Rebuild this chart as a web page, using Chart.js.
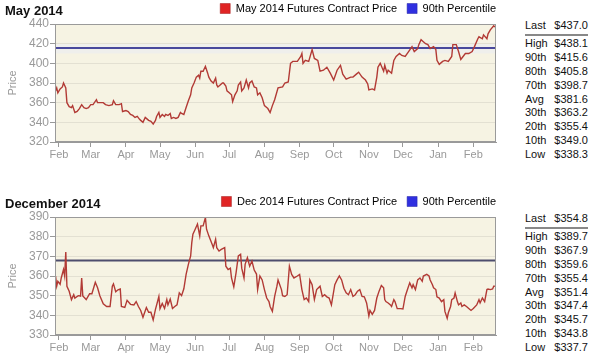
<!DOCTYPE html>
<html lang="en">
<head>
<meta charset="UTF-8">
<title>May 2014 / December 2014 Futures Contract Price</title>
<style>
    body, html {
        margin: 0;
        padding: 0;
        background: #ffffff;
        font-family: Arial, "Liberation Sans", sans-serif;
    }
    .page {
        position: relative;
        width: 591px;
        height: 354px;
        overflow: hidden;
    }
    .panel {
        position: absolute;
        left: 0;
        width: 506px;
        height: 168px;
    }
    .panel h3 {
        position: absolute;
        left: 5px;
        top: 4px;
        margin: 0;
        font-size: 13px;
        line-height: 13px;
        font-weight: bold;
        color: #111;
    }
    .stats {
        position: absolute;
        left: 525px;
        width: 63px;
        font-size: 11px;
        color: #111;
    }
    .stats div {
        display: flex;
        justify-content: space-between;
        height: 13.9px;
        line-height: 13.9px;
    }
    .stats div.last {
        height: 15px;
        border-bottom: 2px solid #888;
        margin-bottom: 1px;
    }
</style>
</head>
<body>
<div class="page">
    <div class="panel" style="top:0px">
        <canvas id="mayChart" width="506" height="168"></canvas>
        <h3>May 2014</h3>
    </div>
    <div class="stats" id="mayStats" style="top:19px"></div>

    <div class="panel" style="top:193px">
        <canvas id="decChart" width="506" height="168"></canvas>
        <h3>December 2014</h3>
    </div>
    <div class="stats" id="decStats" style="top:212px"></div>
</div>

<script src="https://cdn.jsdelivr.net/npm/chart.js"></script>
<script>
    // x axis: days counted from 1 Feb 2013
    const monthDays = [0, 28, 59, 89, 120, 150, 181, 212, 242, 273, 303, 334, 365];
    const monthLabels = ['Feb', 'Mar', 'Apr', 'May', 'Jun', 'Jul', 'Aug', 'Sep', 'Oct', 'Nov', 'Dec', 'Jan', 'Feb'];
    const xMin = -3.5;
    const xMax = 385;

    // May 2014 contract
    const mayDays = [-3,-2,-1,1,3,4,6,7,9,11, 12,14,16,18,20,22,24,26,28,30,
        33,34,36,39,41,44,47,48,50,53, 55,56,59,61,63,65,67,69,71,72,
        74,76,78,79,81,83,85,86,88,89, 91,93,94,96,98,99,101,103,105,107,
        108,110,112,114,116,117,119,121,123,124, 125,127,129,131,132,134,136,138,139,140,
        142,144,145,147,148,150,152,153,155,157, 158,160,161,163,165,167,168,170,172,174,
        175,177,179,181,183,184,186,188,190,193, 197,199,202,204,206,210,213,214,215,217,
        220,223,225,228,230,233,236,239,242,245, 248,250,253,257,259,262,264,267,270,272,
        273,276,278,280,281,283,286,287,289,290, 293,295,297,300,302,305,308,311,313,316,
        317,319,321,323,325,327,330,332,333,335, 338,340,343,346,347,350,352,354,356,358,
        361,364,366,369,370,373,374,377,378,380, 383,384];
    const mayPrice = [372,375,370,374,376,380,375,360,356,355, 357,350,351,354,358,355,354,355,358,358,
        363,360,360,360,358,357,358,362,358,358, 359,351,352,351,348,347,345,346,343,342,
        340,345,343,342,341,338.3,342,346,350,345, 348,346,348,347,349,344,345,344,345,350,
        349,348,355,362,368,375,380,386,388,385, 392,392,397,390,386,382,380,385,378,376,
        378,380,380,377,372,370,368,361,368,372, 378,381,372,375,383,375,380,382,376,375,
        368,370,365,357,355,354,350,357,363,375, 376,380,381,400,402,402,407,410,400,403,
        402,414,405,403,392,393,396,390,383,393, 398,389,384,386,386,389,391,386,383,379,
        373,374,373,386,396,400,392,398,390,393, 390,403,407,410,408,407,412,417,412,415,
        419,424,422,420,419,415,417,414,403,399, 402,403,402,407,419,419,412,404,407,410,
        410,412,417,425,427,425,429,425,430,434, 438.1,437];
    const may90th = 415.6;
    const mayBand = [410, 421];

    // December 2014 contract
    const decDays = [-3,-2,-1,1,2,4,5,6,7,9, 11,13,14,17,19,20,21,24,27,29,
        32,34,36,39,42,45,47,48,50,52, 54,55,58,60,63,66,68,70,72,74,
        77,79,81,83,85,88,89,91,93,95, 96,98,100,102,104,106,108,110,112,114,
        116,117,118,120,122,124,125,127,129,130, 132,135,136,138,139,141,143,146,147,149,
        151,152,154,156,158,160,161,163,164,166, 168,170,172,174,175,177,179,181,183,185,
        186,188,190,192,193,196,197,199,201,203, 205,207,210,212,214,216,218,220,221,223,
        225,227,230,232,234,236,238,240,243,245, 247,249,251,253,255,257,259,261,263,265,
        267,269,271,273,274,276,278,280,282,284, 286,287,288,290,292,293,295,296,298,301,
        303,305,307,309,311,312,314,316,318,320, 321,324,326,327,329,330,332,333,335,337,
        339,340,342,343,345,346,348,349,351,352, 354,355,357,359,361,363,365,368,370,371,
        373,375,377,378,380,382,383,384];
    const decPrice = [359.9,354.8,357.3,355.8,359,363.3,360,372.2,354.8,352.2,
        348,350.5,348.8,350,349.8,359,349.8,348,351,351,
        356.8,354,350,345.9,344.5,344.5,354.8,356,352,353,
        353.4,344.5,344,347.6,345.6,345.3,347,344.5,342.5,339,
        344,341.6,341.6,337.7,343,349.6,343.4,346,343.5,348,
        345.3,348.3,343.5,344.5,345.3,351.4,350,353.5,360.8,365.9,
        370.2,377,381.3,383.8,386.4,380.4,385.5,385.5,389.7,383.8,
        380.4,376,374.4,378.7,374.4,372.7,373.5,374.4,365,363.3,
        364,359,354.5,361.6,370.2,371,364,359,365.9,369.3,
        365,367.6,363,361,353.1,360,358,353.1,348.8,347,
        344.5,342,349.6,354.8,358,353.1,350,349.6,350.5,365,
        360.8,359,360,360.8,353.1,348,348.8,347,358,355.6,
        348,353.1,354.8,349.6,350.5,349.4,348.8,345.3,355.6,358,
        360,358,353.8,351.4,350.5,353.1,349.6,350.5,352.3,353.1,
        349.6,349.4,346.3,339.7,342.5,340.5,342.5,348.8,352.3,355.2,
        354,348,347,346.3,345.3,344.5,348,347,343.4,343.4,
        343.2,349.6,353.1,356.5,354,355.6,353.1,358,359,357.3,
        360,360.8,360,358,355.6,354,353.1,349.4,348.8,347,
        348,342,338.5,341.3,344.5,348,348.8,351.4,347,345.3,
        346.3,344.5,345.3,344.5,343.5,342.5,343.5,345.3,348,346.3,
        348.8,347,353.1,353.4,353.1,353.4,354.8,354.8];
    const dec90th = 367.9;

    const statLabels = ['Last', 'High', '90th', '80th', '70th', 'Avg', '30th', '20th', '10th', 'Low'];
    const mayStats = [437.0, 438.1, 415.6, 405.8, 398.7, 381.6, 363.2, 355.4, 349.0, 338.3];
    const decStats = [354.8, 389.7, 367.9, 359.6, 355.4, 351.4, 347.4, 345.7, 343.8, 337.7];

    Chart.defaults.font.family = 'Arial, "Liberation Sans", sans-serif';

    // beige plot area, optional light band, and a frame around it
    const plotBox = {
        id: 'plotBox',
        beforeDraw(chart, args, opts) {
            const {ctx, chartArea: a, scales} = chart;
            ctx.save();
            ctx.fillStyle = '#f6f3e3';
            ctx.fillRect(a.left, a.top, a.width, a.height);
            if (opts.band) {
                const yTop = scales.y.getPixelForValue(opts.band[1]);
                const yBot = scales.y.getPixelForValue(opts.band[0]);
                ctx.fillStyle = '#efefec';
                ctx.fillRect(a.left, yTop, a.width, yBot - yTop);
            }
            ctx.restore();
        },
        afterDraw(chart) {
            const {ctx, chartArea: a} = chart;
            ctx.save();
            ctx.strokeStyle = '#9a9a9a';
            ctx.lineWidth = 1;
            ctx.strokeRect(a.left + 0.5, a.top + 0.5, a.width - 1, a.height - 1);
            ctx.restore();
        }
    };

    function makeChart(id, name, days, prices, p90, yMin, yMax, yStep, p90Color, band) {
        return new Chart(document.getElementById(id).getContext('2d'), {
            type: 'line',
            data: {
                datasets: [{
                    label: name,
                    data: days.map((d, i) => ({x: d, y: prices[i]})),
                    borderColor: '#b23a35',
                    borderWidth: 1.4,
                    pointRadius: 0,
                    tension: 0
                }, {
                    label: '90th Percentile',
                    data: [{x: xMin, y: p90}, {x: xMax, y: p90}],
                    borderColor: p90Color,
                    borderWidth: 2,
                    pointRadius: 0
                }]
            },
            options: {
                responsive: false,
                animation: false,
                layout: {padding: {top: -7, left: 0, right: 0, bottom: 0}},
                plugins: {
                    plotBox: {band: band},
                    tooltip: {enabled: false},
                    legend: {
                        position: 'top',
                        align: 'end',
                        labels: {
                            boxWidth: 10,
                            boxHeight: 10,
                            padding: 10,
                            color: '#111',
                            font: {size: 11},
                            generateLabels: chart => chart.data.datasets.map((ds, i) => ({
                                text: ds.label,
                                fillStyle: i === 0 ? '#e02424' : '#2f2fe0',
                                strokeStyle: i === 0 ? '#a01818' : '#2020a0',
                                lineWidth: 0.5,
                                datasetIndex: i,
                                hidden: false
                            }))
                        }
                    }
                },
                scales: {
                    x: {
                        type: 'linear',
                        min: xMin,
                        max: xMax,
                        afterBuildTicks: s => { s.ticks = monthDays.map(v => ({value: v})); },
                        afterFit: s => { s.height = 26; },
                        ticks: {
                            autoSkip: false,
                            maxRotation: 0,
                            padding: 1,
                            color: '#999',
                            font: {size: 11},
                            callback: v => monthLabels[monthDays.indexOf(v)]
                        },
                        grid: {drawOnChartArea: false, tickLength: 5, color: '#999'},
                        border: {color: '#999'}
                    },
                    y: {
                        min: yMin,
                        max: yMax,
                        afterFit: s => { s.width = 55; },
                        ticks: {stepSize: yStep, padding: 1, color: '#999', font: {size: 12}},
                        grid: {color: '#e3e0d2', tickLength: 5, tickColor: '#999'},
                        border: {color: '#999'},
                        title: {
                            display: true,
                            text: 'Price',
                            color: '#999',
                            font: {size: 11},
                            padding: {top: 6, bottom: 0}
                        }
                    },
                    y2: {
                        position: 'right',
                        afterFit: s => { s.width = 10; },
                        ticks: {display: false},
                        grid: {display: false, drawTicks: false},
                        border: {display: false}
                    }
                }
            },
            plugins: [plotBox]
        });
    }

    function fillStats(id, values) {
        const box = document.getElementById(id);
        statLabels.forEach((lab, i) => {
            const row = document.createElement('div');
            if (i === 0) row.className = 'last';
            row.innerHTML = '<span>' + lab + '</span><span>$' + values[i].toFixed(1) + '</span>';
            box.appendChild(row);
        });
    }

    makeChart('mayChart', 'May 2014 Futures Contract Price', mayDays, mayPrice, may90th, 320, 440, 20, '#48489c', mayBand);
    makeChart('decChart', 'Dec 2014 Futures Contract Price', decDays, decPrice, dec90th, 330, 390, 10, '#4d4d6d', null);
    fillStats('mayStats', mayStats);
    fillStats('decStats', decStats);
</script>
</body>
</html>
